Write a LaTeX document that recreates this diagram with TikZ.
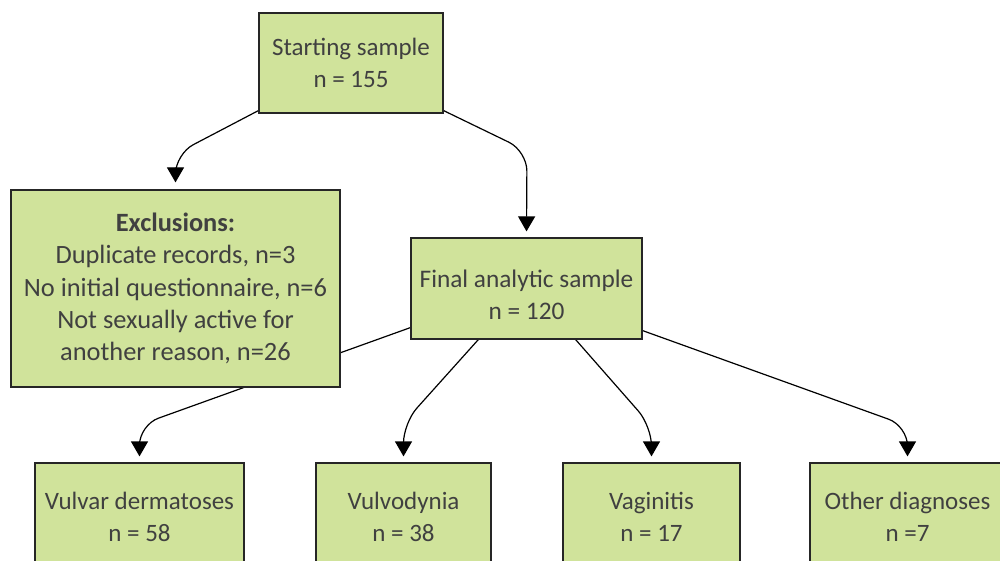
\documentclass[tikz,border=0pt]{standalone}
\usepackage{fontspec}
\setmainfont{Carlito}
\usetikzlibrary{arrows.meta,backgrounds,calc}
\definecolor{boxfill}{HTML}{D0E39B}
\definecolor{txt}{HTML}{404040}
\begin{document}
\begin{tikzpicture}[x=1pt,y=-1pt,
  box/.style={draw=black!85, line width=1.2pt, fill=boxfill, text=txt, align=center,
    font=\fontsize{25}{31.5}\selectfont, inner sep=0pt},
  conn/.style={line width=1.2pt, -{Triangle[width=17pt,length=15pt]}, rounded corners=20pt}]
\useasboundingbox (0,0) rectangle (1000,561);
\node[box, minimum width=184pt, minimum height=100pt] (start) at (351,63) {Starting sample\\n = 155};
\node[box, minimum width=329pt, minimum height=197pt, font=\fontsize{26.4}{32.4}\selectfont] (excl) at (175.5,288.5)
  {\textbf{Exclusions:}\\Duplicate records, n=3\\No initial questionnaire, n=6\\Not sexually active for\\another reason, n=26};
\node[box, minimum width=231pt, minimum height=101pt, font=\fontsize{25.3}{31.5}\selectfont] (final) at (526.5,288.5)
  {\rule{0pt}{30pt}Final analytic sample\\n = 120};
\node[box, minimum width=209pt, minimum height=108pt] (derm) at (139.5,517) {Vulvar dermatoses\\n = 58};
\node[box, minimum width=175pt, minimum height=108pt] (vulvo) at (403.5,517) {Vulvodynia\\n = 38};
\node[box, minimum width=177pt, minimum height=108pt] (vagi) at (651.5,517) {Vaginitis\\n = 17};
\node[box, minimum width=195pt, minimum height=108pt] (other) at (907.5,517) {Other diagnoses\\n =7};
\begin{pgfonlayer}{background}
\draw[conn] ($(start.south west)+(0,-3)$) -- (175.5,154) -- ($(excl.north)+(0,-7)$);
\draw[conn] ($(start.south east)+(0,-3)$) -- (527,151) -- ($(final.north)+(0,-6)$);
\draw[conn] ($(final.south west)+(0,-12)$) -- (139.5,425) -- ($(derm.north)+(0,-6)$);
\draw[conn] ($(final.south)+(-45.5,-3)$) -- (403.5,423) -- ($(vulvo.north)+(0,-6)$);
\draw[conn] ($(final.south)+(46.5,-3)$) -- (651.5,426) -- ($(vagi.north)+(0,-6)$);
\draw[conn] ($(final.south east)+(0,-9)$) -- (907.5,426) -- ($(other.north)+(0,-6)$);
\end{pgfonlayer}
\end{tikzpicture}
\end{document}
